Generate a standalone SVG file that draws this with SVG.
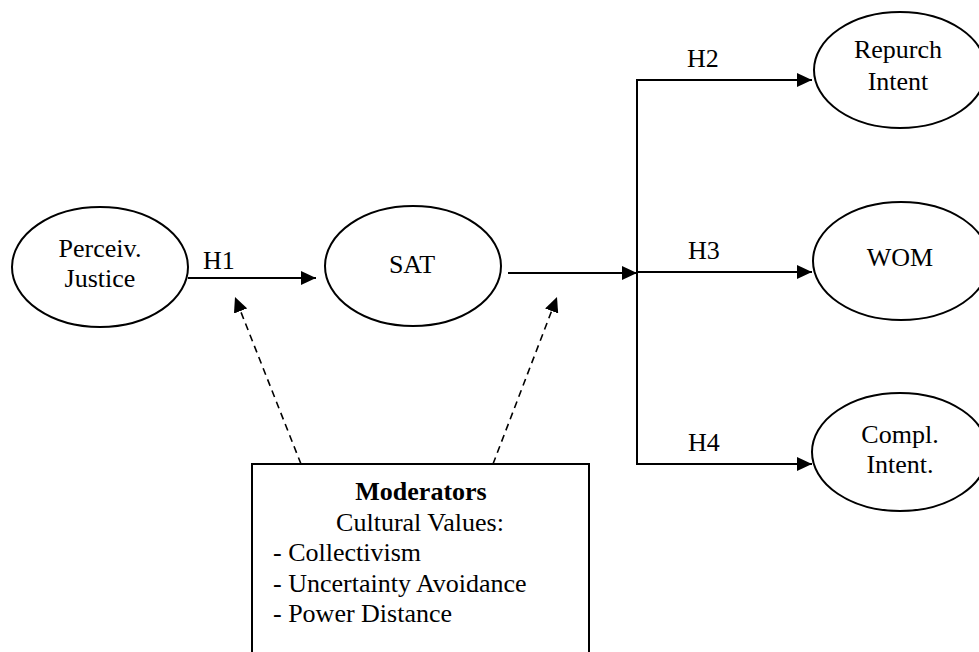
<svg xmlns="http://www.w3.org/2000/svg" width="979" height="652" viewBox="0 0 979 652">
<style>
.node{fill:#fff;stroke:#000;stroke-width:2}
.t{font-family:"Liberation Serif","Times New Roman",serif;font-size:26px;fill:#000}
.c{text-anchor:middle}
.b{font-weight:bold}
.ln{fill:none;stroke:#000;stroke-width:2}
.dash{fill:none;stroke:#000;stroke-width:1.6;stroke-dasharray:7 5}
</style>
<defs>
<marker id="ah" markerUnits="userSpaceOnUse" markerWidth="15" markerHeight="14" refX="15" refY="7" orient="auto">
<path d="M0,0 L15,7 L0,14 z" fill="#000"/>
</marker>
</defs>
<rect width="979" height="652" fill="#fff"/>
<g id="connectors">
<line class="ln" x1="188" y1="278" x2="316" y2="278" marker-end="url(#ah)"/>
<line class="ln" x1="508" y1="273" x2="637" y2="273" marker-end="url(#ah)"/>
<line class="ln" x1="637" y1="80" x2="637" y2="464"/>
<line class="ln" x1="636" y1="80" x2="812" y2="80" marker-end="url(#ah)"/>
<line class="ln" x1="637" y1="272" x2="812" y2="272" marker-end="url(#ah)"/>
<line class="ln" x1="636" y1="464" x2="812" y2="464" marker-end="url(#ah)"/>
<line class="dash" x1="301" y1="464" x2="235" y2="297" marker-end="url(#ah)"/>
<line class="dash" x1="493" y1="464" x2="557" y2="297" marker-end="url(#ah)"/>
<text class="t" x="203" y="269">H1</text>
<text class="t" x="687" y="67">H2</text>
<text class="t" x="688" y="259">H3</text>
<text class="t" x="688" y="451">H4</text>
</g>
<g id="justice">
<ellipse class="node" cx="100" cy="267" rx="88" ry="60"/>
<text class="t c" x="100" y="257">Perceiv.</text>
<text class="t c" x="100" y="287">Justice</text>
</g>
<g id="sat">
<ellipse class="node" cx="413" cy="266" rx="88" ry="60"/>
<text class="t c" x="412" y="273">SAT</text>
</g>
<g id="repurch">
<ellipse class="node" cx="900" cy="70" rx="86" ry="58"/>
<text class="t c" x="898" y="58">Repurch</text>
<text class="t c" x="898" y="90">Intent</text>
</g>
<g id="wom">
<ellipse class="node" cx="901" cy="261" rx="88" ry="59"/>
<text class="t c" x="900" y="266">WOM</text>
</g>
<g id="compl">
<ellipse class="node" cx="900" cy="452" rx="88" ry="59"/>
<text class="t c" x="900" y="443">Compl.</text>
<text class="t c" x="900" y="473">Intent.</text>
</g>
<g id="moderators">
<rect x="252" y="464" width="337" height="220" fill="#fff" stroke="#000" stroke-width="2"/>
<text class="t c b" x="421" y="500">Moderators</text>
<text class="t c" x="420" y="531">Cultural Values:</text>
<text class="t" x="273" y="561">- Collectivism</text>
<text class="t" x="273" y="592">- Uncertainty Avoidance</text>
<text class="t" x="273" y="622">- Power Distance</text>
</g>
</svg>
